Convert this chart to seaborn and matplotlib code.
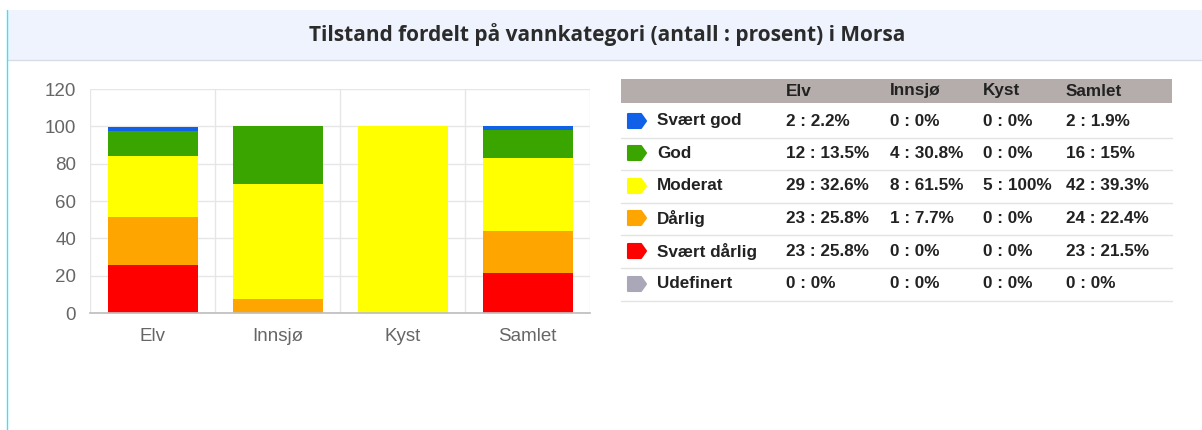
import matplotlib
matplotlib.use("Agg")
import matplotlib.pyplot as plt
from matplotlib.patches import Rectangle, Polygon
from matplotlib.lines import Line2D
import seaborn as sns
import numpy as np

# data
kategorier = ["Elv", "Innsjø", "Kyst", "Samlet"]
tilstander = ["Svært god", "God", "Moderat", "Dårlig", "Svært dårlig", "Udefinert"]
farger = ["#1060E8", "#3BA500", "#FFFF00", "#FFA500", "#FF0000", "#AAA8B8"]
antall = {
    "Elv": [2, 12, 29, 23, 23, 0],
    "Innsjø": [0, 4, 8, 1, 0, 0],
    "Kyst": [0, 0, 5, 0, 0, 0],
    "Samlet": [2, 16, 42, 24, 23, 0],
}
prosent = {
    "Elv": [2.2, 13.5, 32.6, 25.8, 25.8, 0],
    "Innsjø": [0, 30.8, 61.5, 7.7, 0, 0],
    "Kyst": [0, 0, 100, 0, 0, 0],
    "Samlet": [1.9, 15, 39.3, 22.4, 21.5, 0],
}

W, H = 1202, 430
sns.set_theme(style="white")
plt.rcParams["font.family"] = ["Liberation Sans", "DejaVu Sans"]

fig = plt.figure(figsize=(W / 100, H / 100), dpi=100)


def fx(x):
    return x / W


def fy(y):
    return 1 - y / H


# title bar
fig.patches.append(Rectangle((fx(7), fy(60)), fx(W - 7), (50) / H,
                             transform=fig.transFigure, facecolor="#EEF3FE",
                             edgecolor="none", zorder=0))
fig.lines.append(Line2D([fx(7), 1], [fy(60), fy(60)], transform=fig.transFigure,
                        color="#D8DCE6", lw=1))
fig.lines.append(Line2D([fx(7), fx(7)], [0, fy(10)], transform=fig.transFigure,
                        color="#2EEAF8", lw=1))
fig.text(fx(607), fy(35), "Tilstand fordelt på vannkategori (antall : prosent) i Morsa",
         ha="center", va="center", fontsize=15, fontweight="bold",
         family=["Open Sans", "DejaVu Sans"], color="#2B2B2B")

# stacked bar chart
ax = fig.add_axes([fx(90), fy(313), 500 / W, 224 / H])
# stack from bottom: Svært dårlig, Dårlig, Moderat, God, Svært god
order = [4, 3, 2, 1, 0]
cum = np.zeros(len(kategorier))
cums = []
for i in order:
    cum = cum + np.array([prosent[k][i] for k in kategorier])
    cums.append((i, cum.copy()))
for i, c in reversed(cums):
    sns.barplot(x=kategorier, y=c, color=farger[i], saturation=1, width=0.72,
                linewidth=0, ax=ax, zorder=2)

ax.set_xlim(-0.5, 3.5)
ax.set_ylim(0, 120)
ax.set_yticks(range(0, 121, 20))
ax.set_xticks(range(4))
ax.set_xticks(np.arange(-0.5, 4, 1), minor=True)
ax.tick_params(axis="x", which="major", length=0, labelsize=13.5, labelcolor="#666666", pad=11)
ax.tick_params(axis="x", which="minor", length=9, color="#E6E6E6", width=1)
ax.tick_params(axis="y", length=8, color="#E6E6E6", labelsize=13.5, labelcolor="#666666", pad=2)
ax.grid(axis="y", color="#E6E6E6", lw=1, zorder=0)
ax.grid(axis="x", which="minor", color="#E6E6E6", lw=1, zorder=0)
ax.set_axisbelow(True)
for s in ["top", "right", "left"]:
    ax.spines[s].set_visible(False)
ax.spines["bottom"].set_color("#BFBFBF")
ax.spines["bottom"].set_zorder(3)
ax.set_xlabel("")
ax.set_ylabel("")

# table
tx0, tx1 = 621, 1172
fig.patches.append(Rectangle((fx(tx0), fy(103)), (tx1 - tx0) / W, 24 / H,
                             transform=fig.transFigure, facecolor="#B5ADAC",
                             edgecolor="none"))
col_x = [786, 890, 983, 1066]
for k, x in zip(kategorier, col_x):
    fig.text(fx(x), fy(91), k, ha="left", va="center", fontsize=12.3,
             fontweight="bold", color="#222222")
row_y = [121, 153, 186, 218, 251, 284]
for r, (navn, farge, y) in enumerate(zip(tilstander, farger, row_y)):
    # arrow-like icon
    x0, x1, tip = 628, 641, 646
    pts = [(x0, y - 7), (x1, y - 7), (tip, y), (x1, y + 7), (x0, y + 7)]
    fig.patches.append(Polygon([(fx(a), fy(b)) for a, b in pts], closed=True,
                               transform=fig.transFigure, facecolor=farge,
                               edgecolor=farge, lw=1.5, joinstyle="round"))
    fig.text(fx(657), fy(y), navn, ha="left", va="center", fontsize=12.3,
             fontweight="bold", color="#222222")
    for k, x in zip(kategorier, col_x):
        p = prosent[k][r]
        ptxt = f"{p:g}%"
        fig.text(fx(x), fy(y), f"{antall[k][r]} : {ptxt}", ha="left", va="center",
                 fontsize=12.3, fontweight="bold", color="#222222")
    yl = y + 17
    fig.lines.append(Line2D([fx(tx0), fx(tx1)], [fy(yl), fy(yl)],
                            transform=fig.transFigure, color="#E3E3E3", lw=1))

fig.savefig("out.png", dpi=100)
